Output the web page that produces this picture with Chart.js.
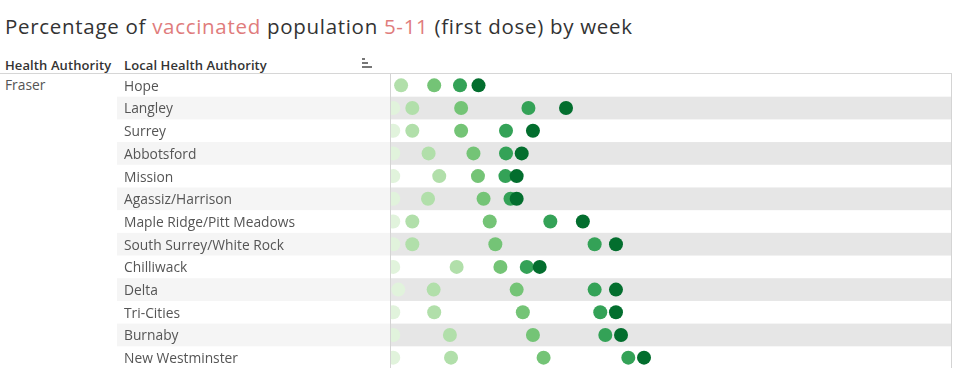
<!DOCTYPE html>
<html>
<head>
<meta charset="utf-8">
<script src="https://cdn.jsdelivr.net/npm/chart.js@4"></script>
<style>
  body { margin: 0; width: 960px; height: 368px; overflow: hidden; background: #fff; position: relative; font-family: "Open Sans", sans-serif; }
  .title { position: absolute; left: 5px; top: 12px; font-size: 20.5px; letter-spacing: 0.7px; color: #333; white-space: nowrap; }
  .title .hl { color: #e07c7c; }
  .hdr { position: absolute; top: 56px; font-size: 13px; letter-spacing: 0.1px; font-weight: 600; color: #333; white-space: nowrap; }
  .hline { position: absolute; left: 0; top: 73px; width: 952px; height: 1px; background: #d6d6d6; }
  .ha { position: absolute; left: 5px; top: 75px; font-size: 13.8px; color: #555; }
  .sort div { position: absolute; height: 2px; background: #777; }
  #chart { position: absolute; left: 0; top: 74px; }
</style>
</head>
<body>
<div class="title">Percentage of <span class="hl">vaccinated</span> population <span class="hl">5-11</span> (first dose) by week</div>
<div class="hdr" style="left:5px">Health Authority</div>
<div class="hdr" style="left:124px">Local Health Authority</div>
<div class="sort">
  <div style="left:362px;top:58px;width:3px"></div>
  <div style="left:362px;top:62px;width:6px"></div>
  <div style="left:362px;top:66px;width:10px"></div>
</div>
<div class="hline"></div>
<div class="ha">Fraser</div>
<canvas id="chart" width="960" height="295"></canvas>

<script>
// rows of the table (Fraser health authority)
const areas = ["Hope", "Langley", "Surrey", "Abbotsford", "Mission", "Agassiz/Harrison",
  "Maple Ridge/Pitt Meadows", "South Surrey/White Rock", "Chilliwack", "Delta",
  "Tri-Cities", "Burnaby", "New Westminster"];

// % vaccinated, one array per week
const week1 = [null, 0.4, 0.4, 0.4, 0.4, 0.4, 0.4, 0.4, 0.4, 1.3, 0.4, 0.4, 0.4];
const week2 = [1.8, 3.8, 3.8, 6.7, 8.6, 6.6, 3.8, 3.8, 11.7, 7.6, 7.7, 10.5, 10.7];
const week3 = [7.7, 12.5, 12.5, 14.7, 15.5, 16.5, 17.6, 18.6, 19.5, 22.4, 23.5, 25.3, 27.2];
const week4 = [12.3, 24.5, 20.5, 20.5, 20.4, 21.3, 28.4, 36.3, 24.2, 36.3, 37.3, 38.2, 42.3];
const week5 = [15.6, 31.2, 25.3, 23.3, 22.4, 22.4, 34.2, 40.1, 26.5, 40.1, 40.1, 41.0, 45.1];

const weeks = [week1, week2, week3, week4, week5];
const weekColors = ["#e1f3dc", "#b1dfaa", "#74c476", "#34a257", "#036e2e"];

// grey bands behind every other row (drawn before the axis labels) + frame lines
const bandsPlugin = {
  id: "bands",
  beforeDraw(chart) {
    const ctx = chart.ctx;
    const area = chart.chartArea;
    const y = chart.scales.y;
    const rowH = area.height / areas.length;
    ctx.save();
    areas.forEach((a, i) => {
      if (i % 2 === 0) return;
      const top = y.getPixelForValue(i) - rowH / 2;
      ctx.fillStyle = "#f5f5f5";
      ctx.fillRect(117, top, area.left - 117, rowH);
      ctx.fillStyle = "#e6e6e6";
      ctx.fillRect(area.left, top, area.right - area.left, rowH);
    });
    ctx.restore();
  },
  afterDraw(chart) {
    const ctx = chart.ctx;
    const area = chart.chartArea;
    ctx.save();
    ctx.strokeStyle = "#d4d4d4";
    ctx.lineWidth = 1;
    ctx.beginPath();
    ctx.moveTo(area.left - 0.5, 0);
    ctx.lineTo(area.left - 0.5, chart.height);
    ctx.moveTo(area.right - 0.5, 0);
    ctx.lineTo(area.right - 0.5, chart.height);
    ctx.stroke();
    ctx.restore();
  }
};

new Chart(document.getElementById("chart"), {
  type: "scatter",
  data: {
    datasets: weeks.map((w, k) => ({
      label: "Week " + (k + 1),
      data: w.map((v, i) => ({ x: v, y: areas[i] })),
      backgroundColor: weekColors[k],
      borderWidth: 0,
      pointRadius: 7,
      pointHoverRadius: 7,
      order: weeks.length - k,
      clip: { left: 0, top: false, right: false, bottom: false }
    }))
  },
  options: {
    responsive: false,
    animation: false,
    layout: { autoPadding: false, padding: { left: 124, right: 8, top: 0, bottom: 0 } },
    plugins: { legend: { display: false }, tooltip: { enabled: false } },
    scales: {
      x: { type: "linear", min: 0, max: 100, display: false },
      y: {
        type: "category",
        labels: areas,
        offset: true,
        grid: { display: false },
        border: { display: false },
        ticks: {
          autoSkip: false,
          crossAlign: "far",
          color: "#555",
          font: { family: "Open Sans", size: 13.8 },
          padding: 0,
          labelOffset: 1.5
        },
        afterFit(scale) {
          scale.width = 267;
          scale.paddingTop = 0;
          scale.paddingBottom = 0;
        }
      }
    }
  },
  plugins: [bandsPlugin]
});
</script>
</body>
</html>
